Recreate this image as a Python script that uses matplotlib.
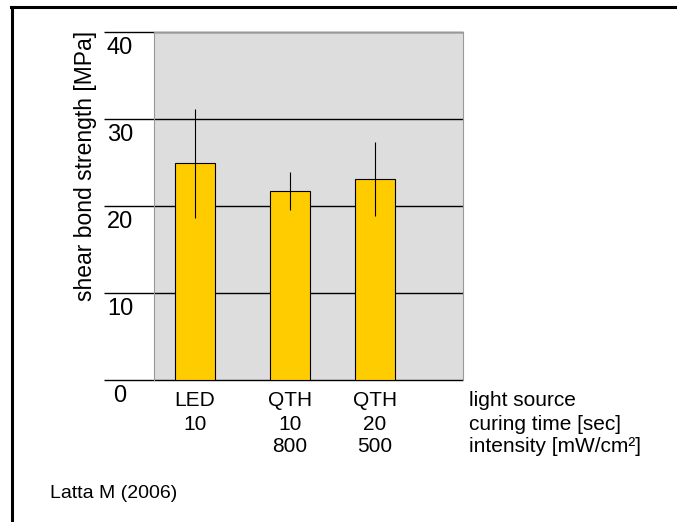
import matplotlib
matplotlib.use("Agg")
import matplotlib.pyplot as plt
import matplotlib.transforms as mtransforms
from matplotlib.lines import Line2D

plt.rcParams['font.family'] = ['Liberation Sans', 'DejaVu Sans']

# data
light_source = ["LED", "QTH", "QTH"]
curing_time = ["10", "10", "20"]
intensity = ["", "800", "500"]
strength = [24.9, 21.7, 23.1]
strength_sd = [6.3, 2.2, 4.2]
y_ticks = [0, 10, 20, 30, 40]
row_titles = ["light source", "curing time [sec]", "intensity [mW/cm\u00b2]"]

# bar centres (axes units) - spacing in the original is not uniform
bar_pos = [0.41, 1.36, 2.21]

fig = plt.figure(figsize=(6.77, 5.22), dpi=100)
ax = fig.add_axes([154 / 677, 142 / 522, 309 / 677, 348 / 522])
ax.set_facecolor("#dddddd")

ax.bar(bar_pos, strength, width=0.40, color="#ffcc00", edgecolor="black",
       linewidth=0.8, zorder=3)
ax.errorbar(bar_pos, strength, yerr=strength_sd, fmt="none", ecolor="black",
            elinewidth=0.8, capsize=0, zorder=4)

ax.set_xlim(0, 3.09)
ax.set_ylim(0, 40)
ax.set_xticks([])
ax.set_yticks([])
for side in ["top", "left", "right"]:
    ax.spines[side].set_color("#999999")
    ax.spines[side].set_linewidth(0.8)
ax.spines["bottom"].set_visible(False)

# gridlines reaching out past the left edge
ax.hlines(y_ticks, -50 / 309, 1, transform=ax.get_yaxis_transform(),
          color="black", linewidth=1.0, clip_on=False, zorder=2)

# tick labels sit under their gridline
lbl_tr = mtransforms.offset_copy(ax.get_yaxis_transform(), fig=fig, y=-16, units="dots")
for v in y_ticks:
    ax.text(-34 / 309, v, str(v), transform=lbl_tr, ha="center", va="center",
            fontsize=17)

ax.text(-68 / 309, (380 - 166) / 348, "shear bond strength [MPa]",
        transform=ax.transAxes, rotation=90, ha="center", va="center", fontsize=16.5)

# category rows under the plot
rows = [light_source, curing_time, intensity]
row_y = [401, 424, 447]
for row, ypix in zip(rows, row_y):
    for x, t in zip(bar_pos, row):
        ax.text(x, (380 - ypix) / 348 * 40, t, ha="center", va="center", fontsize=15)
for title, ypix in zip(row_titles, row_y):
    fig.text(469 / 677, 1 - ypix / 522, title, ha="left", va="center", fontsize=15)

fig.text(50 / 677, 1 - 493 / 522, "Latta M (2006)", ha="left", va="center", fontsize=14)

# frame around the slide
fig.add_artist(Line2D([11 / 677, 1], [1 - 7 / 522] * 2, color="black", linewidth=2.2,
                      transform=fig.transFigure))
fig.add_artist(Line2D([12 / 677] * 2, [0, 1 - 7 / 522], color="black", linewidth=2.2,
                      transform=fig.transFigure))

fig.savefig("out.png", dpi=100)
